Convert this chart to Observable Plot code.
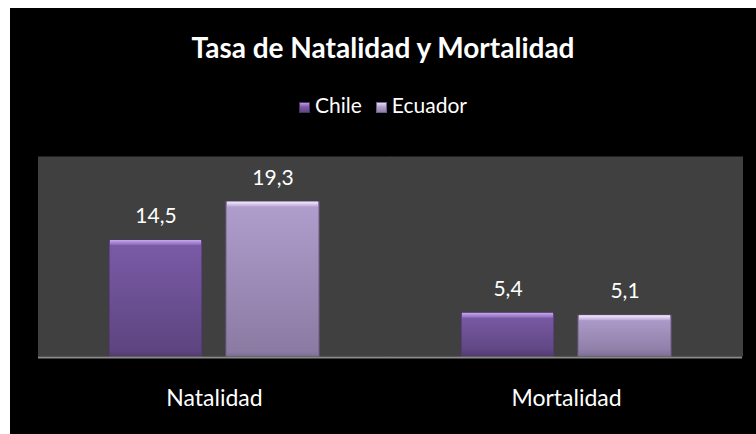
<!DOCTYPE html>
<html>
<head>
<meta charset="utf-8">
<script src="https://cdn.jsdelivr.net/npm/d3@7"></script>
<script src="https://cdn.jsdelivr.net/npm/@observablehq/plot@0.6"></script>
<style>
  html, body { margin: 0; padding: 0; background: #ffffff; width: 756px; height: 434px; overflow: hidden; }
  #wrap { position: absolute; left: 10px; top: 8px; width: 746px; height: 426px; background: #000; font-family: Lato, "Open Sans", sans-serif; color: #fff; }
  #title { position: absolute; left: 0; width: 746px; top: 22px; height: 34px; line-height: 34px; text-align: center; font-weight: bold; font-size: 28px; }
  #legend { position: absolute; left: 0; width: 746px; top: 84px; height: 26px; line-height: 26px; text-align: center; font-size: 21px; }
  #legend span.item { display: inline-block; margin: 0 7px; }
  #legend span.sw { display: inline-block; width: 11px; height: 11px; margin-right: 5px; vertical-align: 0px; }
  #chart { position: absolute; left: 0; top: 132px; }
</style>
</head>
<body>
<div id="wrap">
  <div id="title">Tasa de Natalidad y Mortalidad</div>
  <div id="legend"></div>
  <div id="chart"></div>
</div>
<script>
const categories = ["Natalidad", "Mortalidad"];
const series = ["Chile", "Ecuador"];
const chileValues = [14.5, 5.4];
const ecuadorValues = [19.3, 5.1];
const valueLabels = { Chile: ["14,5", "5,4"], Ecuador: ["19,3", "5,1"] };

const data = [];
categories.forEach((c, i) => {
  data.push({ cat: c, series: "Chile", value: chileValues[i], label: valueLabels.Chile[i] });
  data.push({ cat: c, series: "Ecuador", value: ecuadorValues[i], label: valueLabels.Ecuador[i] });
});

const grads = {
  Chile: { main: ["#7b5ba8", "#5c447e"], top: ["#c7a8f0", "#8a68b8"], bot: ["#5f4684", "#4f3a6d"], edge: "#48345f" },
  Ecuador: { main: ["#b09ecd", "#8a7aa2"], top: ["#f6eaff", "#bba8d8"], bot: ["#8f7fa8", "#7c6d93"], edge: "#6e6184" }
};

// legend
const leg = document.getElementById("legend");
series.forEach(s => {
  const it = document.createElement("span");
  it.className = "item";
  const sw = document.createElement("span");
  sw.className = "sw";
  sw.style.background = `linear-gradient(${grads[s].top[0]}, ${grads[s].main[0]} 45%, ${grads[s].main[1]})`;
  sw.style.boxShadow = `inset 0 0 0 1px ${grads[s].edge}`;
  it.appendChild(sw);
  it.appendChild(document.createTextNode(s));
  leg.appendChild(it);
});

function defsMark() {
  const svg = d3.create("svg:g");
  const defs = svg.append("defs");
  for (const s of series) {
    for (const k of ["main", "top", "bot"]) {
      const g = defs.append("linearGradient").attr("id", `g-${s}-${k}`).attr("x1", 0).attr("x2", 0).attr("y1", 0).attr("y2", 1);
      g.append("stop").attr("offset", "0%").attr("stop-color", grads[s][k][0]);
      g.append("stop").attr("offset", "100%").attr("stop-color", grads[s][k][1]);
    }
  }
  return svg.node();
}

const chart = Plot.plot({
  width: 746,
  height: 294,
  marginTop: 16,
  marginBottom: 78,
  marginLeft: 27,
  marginRight: 14,
  style: { background: "transparent", color: "#fff", fontFamily: "Lato, 'Open Sans', sans-serif" },
  fx: { domain: categories, padding: 0 },
  x: { domain: series, paddingInner: 0.2034, paddingOuter: 0.595, axis: null },
  y: { domain: [0, 25], axis: null },
  color: { domain: series, range: series.map(s => `url(#g-${s}-main)`) },
  marks: [
    defsMark,
    Plot.frame({ fill: "#404040", stroke: "none", insetRight: -0.5, insetLeft: -0.5 }),
    Plot.barY(data, { fx: "cat", x: "series", y: "value", fill: "series", stroke: d => grads[d.series].edge, strokeWidth: 1 }),
    Plot.barY(data, { fx: "cat", x: "series", y1: "value", y2: "value", insetBottom: -5, insetLeft: 1, insetRight: 1, fill: d => `url(#g-${d.series}-top)` }),
    Plot.barY(data, { fx: "cat", x: "series", y1: 0, y2: 0, insetTop: -6, insetLeft: 1, insetRight: 1, fill: d => `url(#g-${d.series}-bot)`, fillOpacity: 0.8 }),
    Plot.ruleY([0], { stroke: "#8a8a8a", strokeWidth: 2, dy: 1 }),
    Plot.text(data, { fx: "cat", x: "series", y: "value", text: "label", dy: -24, fill: "#ffffff", fontSize: 21 }),
    Plot.axisFx({ anchor: "bottom", tickSize: 0, tickPadding: 33, fontSize: 23, fill: "#ffffff", label: null })
  ]
});
document.getElementById("chart").appendChild(chart);
</script>
</body>
</html>
